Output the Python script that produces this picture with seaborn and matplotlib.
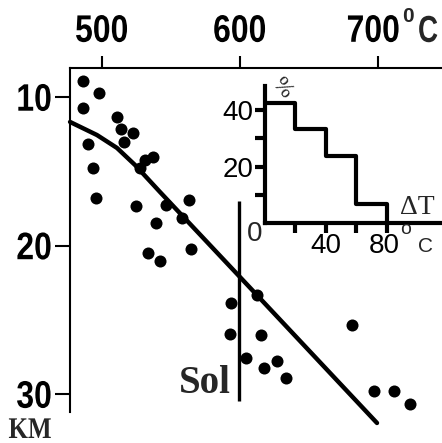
import numpy as np
import pandas as pd
import matplotlib
matplotlib.use("Agg")
import matplotlib.pyplot as plt
from matplotlib import font_manager
from matplotlib.patheffects import AbstractPathEffect
from matplotlib.transforms import Affine2D, ScaledTranslation
from matplotlib.path import Path
import seaborn as sns

# ---------------- data ----------------
temps = [486.4, 498.0, 486.4, 490.0, 493.6, 495.8, 511.0, 513.9, 522.6, 516.1,
         527.7, 531.3, 537.1, 524.8, 546.5, 563.2, 558.1, 539.3, 533.5, 542.2,
         564.6, 612.5, 593.6, 592.9, 615.4, 604.5, 627.0, 617.5, 633.5, 681.3,
         697.2, 711.7, 723.3]
depths = [8.92, 9.73, 10.74, 13.16, 14.78, 16.80, 11.35, 12.15, 12.42, 13.03,
          14.78, 14.24, 14.04, 17.34, 17.27, 16.94, 18.15, 18.48, 20.50, 21.04,
          20.24, 23.33, 23.87, 25.96, 26.03, 27.58, 27.78, 28.25, 28.92, 25.35,
          29.80, 29.80, 30.67]

curve_T = [477.0, 496.5, 511.0, 524.1, 542.2, 600.1, 699.4]
curve_D = [11.68, 12.56, 13.43, 14.58, 16.40, 22.12, 31.95]

sol_T = 599.4
sol_D = [17.0, 30.47]

x_ticks = [500, 600, 700]
x_labels = ["500", "600", "700"]
y_ticks = [10, 20, 30]
y_labels = ["10", "20", "30"]

hist_edges = [0, 20, 40, 60, 80]
hist_values = [42.5, 33.3, 23.7, 6.7]
hx_ticks = [20, 40, 60, 80]
hx_labels = ["", "40", "", "80"]
hy_ticks = [10, 20, 30, 40]
hy_labels = ["", "20", "", "40"]

# ---------------- fonts ----------------
names = {f.name for f in font_manager.fontManager.ttflist}
serif = "Liberation Serif" if "Liberation Serif" in names else "DejaVu Serif"
sans = "Liberation Sans" if "Liberation Sans" in names else "DejaVu Sans"

sns.set_style("white")
plt.rcParams["font.family"] = [sans, "DejaVu Sans"]


class Stretch(AbstractPathEffect):
    """Scale the glyph outlines of a text around an anchor (tall, narrow look)."""

    def __init__(self, sx=1.0, sy=1.0, hx="center", vy="center"):
        super().__init__()
        self.sx, self.sy, self.hx, self.vy = sx, sy, hx, vy

    def draw_path(self, renderer, gc, tpath, affine, rgbFace=None):
        verts = tpath.vertices
        if tpath.codes is not None:
            keep = (tpath.codes != Path.CLOSEPOLY) & (tpath.codes != Path.STOP)
            verts = verts[keep]
        if len(verts) == 0:
            renderer.draw_path(gc, tpath, affine, rgbFace)
            return
        v = affine.transform(verts)
        xs, ys = v[:, 0], v[:, 1]
        cx = {"left": xs.min(), "center": 0.5 * (xs.min() + xs.max()),
              "right": xs.max()}[self.hx]
        cy = {"bottom": ys.min(), "center": 0.5 * (ys.min() + ys.max()),
              "top": ys.max()}[self.vy]
        t = affine + Affine2D().translate(-cx, -cy).scale(self.sx, self.sy).translate(cx, cy)
        renderer.draw_path(gc, tpath, t, rgbFace)


W, H = 442, 443
fig = plt.figure(figsize=(W / 100, H / 100), dpi=100)
fig.patch.set_facecolor("white")


def px(x0, y0, x1, y1):
    return [x0 / W, 1 - y1 / H, (x1 - x0) / W, (y1 - y0) / H]


def ftext(x, y, s, **kw):
    return fig.text(x / W, 1 - y / H, s, **kw)


# ---------------- main axes ----------------
ax = fig.add_axes(px(70, 68.3, 442, 411.7))
ax.set_facecolor("none")

sns.scatterplot(x=temps, y=depths, s=75, color="black", edgecolor="black",
                linewidth=0, marker="o", ax=ax, clip_on=False, zorder=3)
sns.lineplot(x=curve_T, y=curve_D, sort=False, estimator=None, color="black",
             linewidth=3.2, ax=ax, clip_on=False, zorder=2)
ax.vlines(sol_T, sol_D[0], sol_D[1], color="black", linewidth=2.4, clip_on=False)

ax.set_xlim(476.96, 746.5)
ax.set_ylim(31.19, 8.067)

for s in ["right", "bottom"]:
    ax.spines[s].set_visible(False)
for s in ["top", "left"]:
    ax.spines[s].set_visible(True)
    ax.spines[s].set_linewidth(1.5)
    ax.spines[s].set_color("black")

ax.xaxis.tick_top()
ax.set_xticks(x_ticks)
ax.set_xticklabels(x_labels)
ax.set_yticks(y_ticks)
ax.set_yticklabels(y_labels)
ax.tick_params(axis="x", which="major", top=True, bottom=False, direction="out",
               length=9, width=1.5, pad=5, colors="black")
ax.tick_params(axis="y", which="major", left=True, direction="out",
               length=11, width=1.5, pad=2, colors="black")
for lab in ax.get_xticklabels():
    lab.set_fontfamily(sans)
    lab.set_fontweight("bold")
    lab.set_fontsize(23)
    lab.set_path_effects([Stretch(1.0, 1.2, "center", "bottom")])
for lab in ax.get_yticklabels():
    lab.set_fontfamily(sans)
    lab.set_fontweight("bold")
    lab.set_fontsize(23)
    lab.set_path_effects([Stretch(1.0, 1.2, "right", "center")])
# the "700" label sits a little left of its tick in the original
lab700 = ax.get_xticklabels()[2]
lab700.set_transform(lab700.get_transform()
                     + ScaledTranslation(-0.045, 0, fig.dpi_scale_trans))
ax.set_xlabel("")
ax.set_ylabel("")
ax.grid(False)

# degree sign and unit on top axis
ftext(402, 7, "0", ha="left", va="top", fontfamily=sans, fontweight="bold", fontsize=15)
ftext(418, 42, "C", ha="left", va="baseline", fontfamily=sans, fontweight="bold",
      fontsize=20, path_effects=[Stretch(1.0, 1.35, "left", "bottom")])

ftext(231, 393, "Sol", ha="right", va="baseline", fontfamily=serif,
      fontweight="bold", fontsize=28)
ftext(30, 438, "KM", ha="center", va="baseline", fontfamily=serif,
      fontweight="bold", fontsize=18, path_effects=[Stretch(1.0, 1.2, "center", "bottom")])

# ---------------- inset histogram ----------------
ai = fig.add_axes(px(265, 86, 440, 223))
ai.set_facecolor("none")
centers = [(a + b) / 2 for a, b in zip(hist_edges[:-1], hist_edges[1:])]
sns.histplot(x=centers, weights=hist_values, bins=hist_edges, element="step",
             fill=False, color="black", linewidth=3, ax=ai)
ai.vlines(hist_edges[-1], 0, hist_values[-1], color="black", linewidth=3)
ai.set_xlim(0, 114.8)
ai.set_ylim(0, 48.5)
for s in ["right", "top"]:
    ai.spines[s].set_visible(False)
for s in ["left", "bottom"]:
    ai.spines[s].set_visible(True)
    ai.spines[s].set_linewidth(3)
    ai.spines[s].set_color("black")
ai.set_xticks(hx_ticks)
ai.set_xticklabels(hx_labels)
ai.set_yticks(hy_ticks)
ai.set_yticklabels(hy_labels)
ai.tick_params(axis="x", bottom=True, direction="out", length=7, width=3, pad=0,
               colors="black")
ai.tick_params(axis="y", left=True, direction="out", length=7, width=3, pad=1.5,
               colors="black")
for lab in ai.get_xticklabels() + ai.get_yticklabels():
    lab.set_fontfamily(sans)
    lab.set_fontsize(20)
lab80 = ai.get_xticklabels()[3]
lab80.set_transform(lab80.get_transform()
                    + ScaledTranslation(-0.03, 0, fig.dpi_scale_trans))
ai.set_xlabel("")
ai.set_ylabel("")
ai.grid(False)

ftext(254.5, 234, "0", ha="center", va="center", fontfamily=sans, fontsize=20)
ftext(400, 221, "o", ha="left", va="top", fontfamily=sans, fontsize=14)
ftext(418, 252, "C", ha="left", va="baseline", fontfamily=sans, fontsize=15)
ftext(281.5, 88, "%", ha="center", va="center", fontfamily=serif, fontsize=17,
      rotation=-50)
ftext(400, 214, "ΔT", ha="left", va="baseline", fontfamily=serif, fontsize=20)

fig.savefig("out.png", dpi=100, facecolor="white")
